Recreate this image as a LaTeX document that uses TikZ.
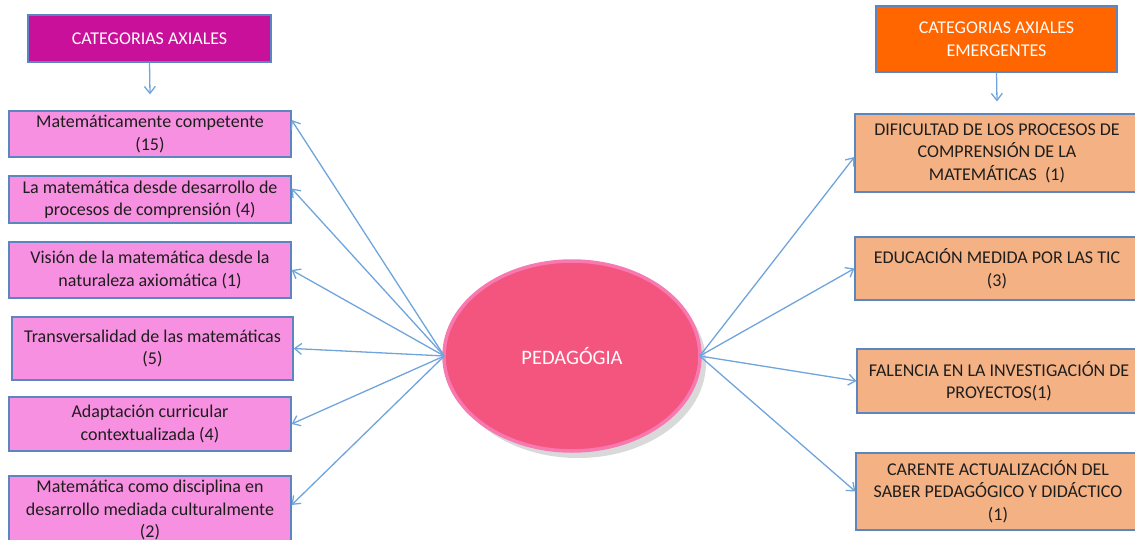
\documentclass[tikz,border=0pt]{standalone}
\usepackage{fontspec}
\setmainfont{Carlito}
\usetikzlibrary{shapes.geometric,shadows,arrows.meta}

\definecolor{headmag}{HTML}{C8109A}
\definecolor{headorange}{HTML}{FF6600}
\definecolor{axialfill}{HTML}{F790E0}
\definecolor{emerfill}{HTML}{F4B183}
\definecolor{boxline}{HTML}{5B86C0}
\definecolor{linkblue}{HTML}{6FA4DC}
\definecolor{pedfill}{HTML}{F4557F}
\definecolor{pedrim}{HTML}{F879B0}
\definecolor{boxtext}{HTML}{1E1E1E}

\begin{document}
\begin{tikzpicture}[
            x=1pt, y=-1pt,
            every node/.style={align=center, font=\fontsize{18}{22.5}\selectfont}
        ]

        % Define styles for nodes
        \tikzset{
            header/.style={rectangle, draw=boxline, line width=1.2pt, text=white!95!pink, inner sep=0pt},
            axial/.style={rectangle, draw=boxline, fill=axialfill, line width=1.2pt, text=boxtext, minimum width=282pt, inner sep=0pt},
            emergent/.style={rectangle, draw=boxline, fill=emerfill, line width=1.2pt, text=boxtext, minimum width=284pt, inner sep=0pt},
            link/.style={draw=linkblue, line width=1.3pt, -{Straight Barb[length=7pt,width=11pt]}}
        }

        \useasboundingbox (0,0) rectangle (1135,540);
        \clip (0,0) rectangle (1135,540);

        % Central node
        \node[ellipse, fill=pedfill, draw=pedrim, line width=3.5pt, minimum width=256pt, minimum height=190pt,
              drop shadow={shadow xshift=6pt, shadow yshift=-7pt, opacity=.3}, text=white!95!pink,
              font=\fontsize{20.5}{24}\selectfont] (pedagogia) at (572,356) {PEDAGÓGIA};

        % Left: axial categories
        \node[header, fill=headmag, minimum width=243pt, minimum height=47pt] (axhead) at (149.5,38.5) {CATEGORIAS AXIALES};
        \node[axial, minimum height=46pt] (ax1) at (150,134) {Matemáticamente competente\\(15)};
        \node[axial, minimum height=47pt] (ax2) at (150,199.5) {La matemática desde desarrollo de\\procesos de comprensión (4)};
        \node[axial, minimum height=56pt] (ax3) at (150,270) {Visión de la matemática desde la\\naturaleza axiomática (1)};
        \node[axial, minimum height=63pt, minimum width=281pt] (ax4) at (152.5,348.5) {Transversalidad de las matemáticas\\(5)};
        \node[axial, minimum height=54pt] (ax5) at (150,424) {Adaptación curricular\\contextualizada (4)};
        \node[axial, minimum height=68pt] (ax6) at (150,510) {Matemática como disciplina en\\desarrollo mediada culturalmente\\(2)};

        % Right: emerging categories
        \node[header, fill=headorange, minimum width=241pt, minimum height=66pt] (emhead) at (996.5,39) {CATEGORIAS AXIALES\\EMERGENTES};
        \node[emergent, minimum height=78pt] (em1) at (997,153) {DIFICULTAD DE LOS PROCESOS DE\\COMPRENSIÓN DE LA\\MATEMÁTICAS~~(1)};
        \node[emergent, minimum height=63pt] (em2) at (997,268.5) {EDUCACIÓN MEDIDA POR LAS TIC\\(3)};
        \node[emergent, minimum height=64pt] (em3) at (999,381) {FALENCIA EN LA INVESTIGACIÓN DE\\PROYECTOS(1)};
        \node[emergent, minimum height=77pt] (em4) at (998,491.5) {CARENTE ACTUALIZACIÓN DEL\\SABER PEDAGÓGICO Y DIDÁCTICO\\(1)};

        % Header arrows
        \draw[link] (axhead.south) -- ([yshift=16pt]ax1.north);
        \draw[link] (emhead.south) -- ([yshift=12pt]em1.north);

        % Links to the left
        \draw[link] ([xshift=2pt]pedagogia.west) -- ([yshift=14pt]ax1.east);
        \draw[link] ([xshift=2pt]pedagogia.west) -- ([yshift=11pt]ax2.east);
        \draw[link] ([xshift=2pt]pedagogia.west) -- (ax3.east);
        \draw[link] ([xshift=2pt]pedagogia.west) -- (ax4.east);
        \draw[link] ([xshift=2pt]pedagogia.west) -- (ax5.east);
        \draw[link] ([xshift=2pt]pedagogia.west) -- ([yshift=5pt]ax6.east);

        % Links to the right
        \draw[link] ([xshift=-2pt]pedagogia.east) -- ([yshift=-4pt]em1.west);
        \draw[link] ([xshift=-2pt]pedagogia.east) -- (em2.west);
        \draw[link] ([xshift=-2pt]pedagogia.east) -- (em3.west);
        \draw[link] ([xshift=-2pt]pedagogia.east) -- (em4.west);

\end{tikzpicture}
\end{document}
